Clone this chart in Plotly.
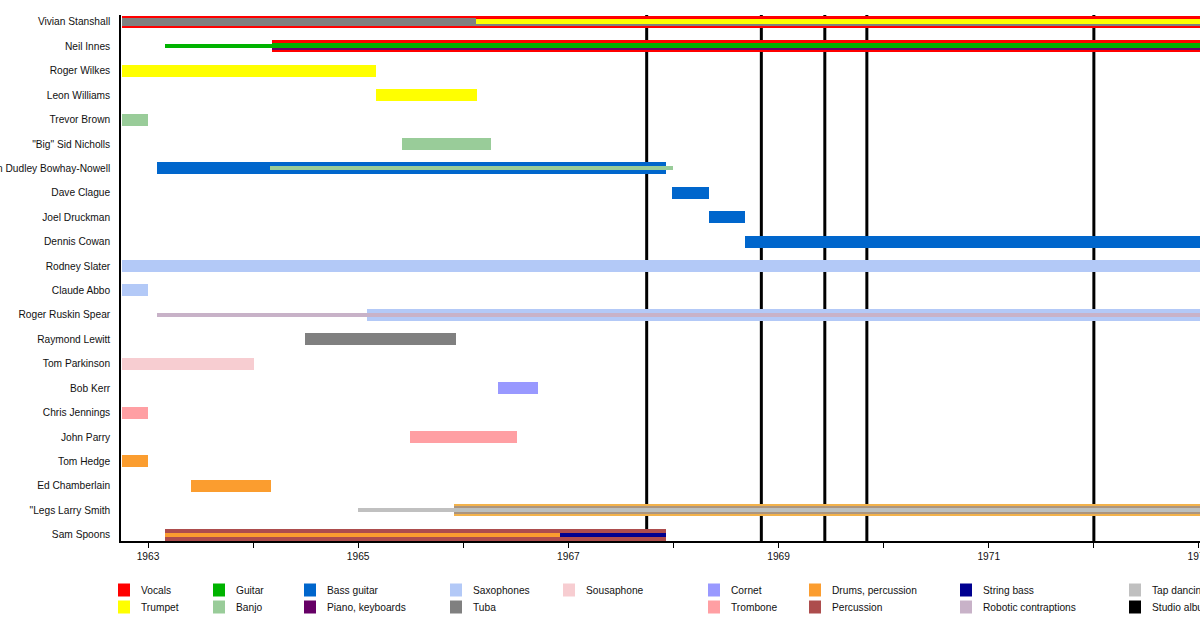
import plotly.graph_objects as go

# ---------------- data ----------------
members = ["Vivian Stanshall", "Neil Innes", "Roger Wilkes", "Leon Williams", "Trevor Brown",
           "\"Big\" Sid Nicholls", "Vernon Dudley Bowhay-Nowell", "Dave Clague", "Joel Druckman",
           "Dennis Cowan", "Rodney Slater", "Claude Abbo", "Roger Ruskin Spear", "Raymond Lewitt",
           "Tom Parkinson", "Bob Kerr", "Chris Jennings", "John Parry", "Tom Hedge",
           "Ed Chamberlain", "\"Legs Larry Smith", "Sam Spoons"]

roles = ["Vocals", "Trumpet", "Guitar", "Banjo", "Bass guitar", "Piano, keyboards",
         "Saxophones", "Tuba", "Sousaphone", "Cornet", "Trombone", "Drums, percussion",
         "Percussion", "String bass", "Robotic contraptions", "Tap dancing"]

START = 1962.75
END = 1973.5

seg_member = ["Vivian Stanshall", "Vivian Stanshall", "Vivian Stanshall", "Vivian Stanshall",
              "Neil Innes", "Neil Innes", "Neil Innes", "Neil Innes",
              "Roger Wilkes", "Leon Williams", "Trevor Brown", "\"Big\" Sid Nicholls",
              "Vernon Dudley Bowhay-Nowell", "Vernon Dudley Bowhay-Nowell",
              "Dave Clague", "Joel Druckman", "Dennis Cowan",
              "Rodney Slater", "Claude Abbo",
              "Roger Ruskin Spear", "Roger Ruskin Spear",
              "Raymond Lewitt", "Tom Parkinson", "Bob Kerr", "Chris Jennings", "John Parry",
              "Tom Hedge", "Ed Chamberlain",
              "\"Legs Larry Smith", "\"Legs Larry Smith", "\"Legs Larry Smith", "\"Legs Larry Smith",
              "Sam Spoons", "Sam Spoons", "Sam Spoons"]
seg_role = ["Vocals", "Tuba", "Trumpet", "Tuba",
            "Guitar", "Vocals", "Piano, keyboards", "Guitar",
            "Trumpet", "Trumpet", "Banjo", "Banjo",
            "Bass guitar", "Banjo",
            "Bass guitar", "Bass guitar", "Bass guitar",
            "Saxophones", "Saxophones",
            "Saxophones", "Robotic contraptions",
            "Tuba", "Sousaphone", "Cornet", "Trombone", "Trombone",
            "Drums, percussion", "Drums, percussion",
            "Tap dancing", "Drums, percussion", "Percussion", "Tap dancing",
            "Percussion", "Drums, percussion", "String bass"]
seg_start = [START, START, 1966.12, 1966.12,
             1963.16, 1964.18, 1964.18, 1964.18,
             START, 1965.17, START, 1965.42,
             1963.09, 1964.16,
             1967.99, 1968.34, 1968.68,
             START, START,
             1965.08, 1963.09,
             1964.49, START, 1966.33, START, 1965.49,
             START, 1963.41,
             1965.00, 1965.91, 1965.91, 1965.91,
             1963.16, 1963.16, 1966.92]
seg_end = [END, 1966.12, END, END,
           1964.18, END, END, END,
           1965.17, 1966.13, 1963.00, 1966.26,
           1967.93, 1968.00,
           1968.34, 1968.68, END,
           END, 1963.00,
           END, END,
           1965.93, 1964.01, 1966.71, 1963.00, 1966.51,
           1963.00, 1964.17,
           END, END, END, END,
           1967.93, 1966.92, 1967.93]

album_years = [1967.745, 1968.836, 1969.44, 1969.84, 1972.0]

tick_years = [1963, 1964, 1965, 1966, 1967, 1968, 1969, 1970, 1971, 1972, 1973]
tick_labels = ["1963", "", "1965", "", "1967", "", "1969", "", "1971", "", "1973"]

# ---------------- styles ----------------
role_colors = {
    "Vocals": "#ff0000", "Trumpet": "#ffff00", "Guitar": "#00b300", "Banjo": "#99cc99",
    "Bass guitar": "#0066cc", "Piano, keyboards": "#660066", "Saxophones": "#b3c9f7",
    "Tuba": "#808080", "Sousaphone": "#f7cdd1", "Cornet": "#9999ff", "Trombone": "#ff9fa3",
    "Drums, percussion": "#fb9d2f", "Percussion": "#ad4d4d", "String bass": "#000090",
    "Robotic contraptions": "#c8b2c8", "Tap dancing": "#c0c0c0", "Studio album": "#000000",
}
# thickness (px), vertical shift (px, up positive), colour override
seg_px = [12, 8, 5, 1.5,
          4, 12, 7, 5,
          12, 12, 12, 12,
          12, 4,
          12, 12, 12,
          12, 12,
          12, 4,
          12, 12, 12, 12, 12,
          12, 12,
          4, 12, 8, 4,
          12, 4, 4]
seg_shift = [0, 0, 0.3, -2.8,
             0, 0, 0, 1.2,
             0, 0, 0, 0,
             0, 0,
             0, 0, 0,
             0, 0,
             0, 0,
             0, 0, 0, 0, 0,
             0, 0,
             0, 0, 0, 0,
             0, 0, 0]
seg_override = {29: "#f2b24c", 30: "#ab957f", 31: "#bcc0bf"}

ROW_PX = 24.42
n = len(members)
row_of = {m: n - 1 - i for i, m in enumerate(members)}

fig = go.Figure()
for k in range(len(seg_member)):
    col = seg_override.get(k, role_colors[seg_role[k]])
    fig.add_trace(go.Bar(
        orientation="h",
        y=[row_of[seg_member[k]] + seg_shift[k] / ROW_PX],
        x=[seg_end[k] - seg_start[k]],
        base=[seg_start[k]],
        width=seg_px[k] / ROW_PX,
        marker=dict(color=col, line=dict(width=0)),
        showlegend=False,
        name=seg_role[k],
        hovertemplate=seg_member[k] + ": " + seg_role[k] + "<extra></extra>",
    ))

for yr in album_years:
    fig.add_vline(x=yr, line=dict(color="black", width=3), layer="below")

# ---------------- legend (manual, column-major, 2 rows) ----------------
L, T, W, H = 121, 15, 1200, 620
PW, PH = W - L, 541 - T
def px2x(px):
    return (px - L) / PW
def py2y(py):
    return (541 - py) / PH

legend_items = roles[:9] + [None] + roles[9:] + ["Studio album"]
legend_col_px = [118, 213, 304, 450, 563, 708, 809, 960, 1129]
legend_row_py = [590, 607]
for idx, name in enumerate(legend_items):
    if name is None:
        continue
    cx = legend_col_px[idx // 2]
    cy = legend_row_py[idx % 2]
    fig.add_shape(type="rect", xref="paper", yref="paper",
                  x0=px2x(cx), x1=px2x(cx + 12), y0=py2y(cy + 6.5), y1=py2y(cy - 6.5),
                  fillcolor=role_colors[name], line=dict(width=0))
    fig.add_annotation(xref="paper", yref="paper", x=px2x(cx + 21), y=py2y(cy),
                       text=name, showarrow=False, xanchor="left", yanchor="middle",
                       font=dict(size=10.2, color="#111"))

fig.update_layout(
    width=W, height=H, autosize=False,
    margin=dict(l=L, r=0, t=T, b=H - 541, pad=0, autoexpand=False),
    paper_bgcolor="white", plot_bgcolor="white",
    barmode="overlay", bargap=0,
    font=dict(family="Liberation Sans, Arial, sans-serif", size=10.2, color="#111"),
    xaxis=dict(range=[1962.743, 1973.01], tickvals=tick_years, ticktext=tick_labels,
               showline=True, linecolor="black", linewidth=1.5, ticks="outside",
               ticklen=5, tickwidth=1, tickcolor="black", showgrid=False, zeroline=False,
               tickfont=dict(size=10.2), automargin=False, ticklabeloverflow="allow"),
    yaxis=dict(range=[-0.258, 21.28], tickvals=[row_of[m] for m in members], ticktext=members,
               showline=True, linecolor="black", linewidth=1.5, ticks="", showgrid=False,
               zeroline=False, ticklabelstandoff=7, tickfont=dict(size=10.2), automargin=False),
)

fig.write_html("out.html", config={"displayModeBar": False},
               post_script="document.body.style.margin='0';document.body.style.padding='0';")
